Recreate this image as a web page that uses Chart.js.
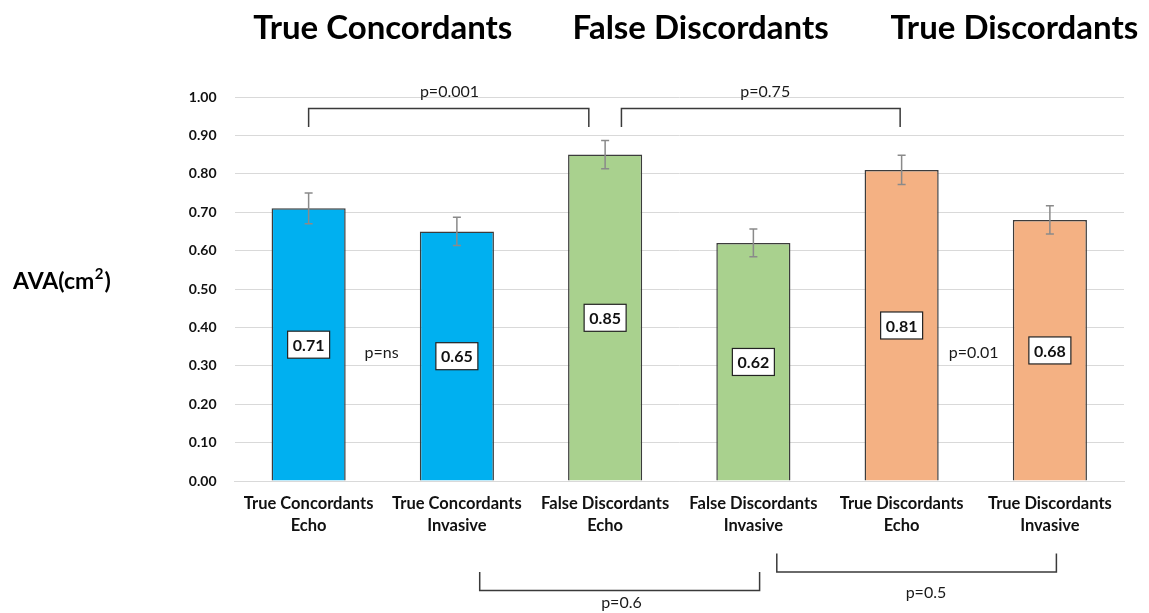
<!DOCTYPE html>
<html>
<head>
<meta charset="utf-8">
<script src="https://cdn.jsdelivr.net/npm/chart.js@4.4.1/dist/chart.umd.min.js"></script>
<style>
  html, body { margin: 0; padding: 0; background: #ffffff; }
  #wrap { width: 1149px; height: 613px; position: relative; }
</style>
</head>
<body>
<div id="wrap"><canvas id="chart"></canvas></div>
<script>
// Categories (two-line axis labels)
const categories = [
  ['True Concordants', 'Echo'],
  ['True Concordants', 'Invasive'],
  ['False Discordants', 'Echo'],
  ['False Discordants', 'Invasive'],
  ['True Discordants', 'Echo'],
  ['True Discordants', 'Invasive']
];
// Mean aortic valve area (cm²) and error half-widths
const avaMean = [0.71, 0.65, 0.85, 0.62, 0.81, 0.68];
const avaError = [0.040, 0.037, 0.037, 0.036, 0.038, 0.037];
// Group headings and p-value annotations
const groupTitles = ['True Concordants', 'False Discordants', 'True Discordants'];
const pLabels = ['p=0.001', 'p=0.75', 'p=ns', 'p=0.01', 'p=0.6', 'p=0.5'];
const yTickValues = [0, 0.1, 0.2, 0.3, 0.4, 0.5, 0.6, 0.7, 0.8, 0.9, 1.0];

const barColors = ['#00B0F0', '#00B0F0', '#A9D18E', '#A9D18E', '#F4B183', '#F4B183'];
const FONT = 'Lato, "Open Sans", sans-serif';

// Bracket geometry: x in category-index units, y in axis units
const brackets = [
  { x0: 0.0,   x1: 1.89,  yLine: 0.970,  yEnd: 0.922,  label: 0, tx: 0.95,  ty: 1.013 },
  { x0: 2.11,  x1: 3.99,  yLine: 0.970,  yEnd: 0.922,  label: 1, tx: 3.08,  ty: 1.013 },
  { x0: 1.154, x1: 3.042, yLine: -0.285, yEnd: -0.237, label: 4, tx: 2.11,  ty: -0.318 },
  { x0: 3.158, x1: 5.044, yLine: -0.237, yEnd: -0.189, label: 5, tx: 4.164, ty: -0.292 }
];
const looseLabels = [
  { label: 2, tx: 0.492, ty: 0.333 },
  { label: 3, tx: 4.486, ty: 0.333 }
];
const titlePos = [0.50, 2.644, 4.76];

const errorBarPlugin = {
  id: 'errorBars',
  afterDatasetsDraw(chart) {
    const { ctx, scales: { x, y } } = chart;
    ctx.save();
    ctx.strokeStyle = '#8a8a8a';
    ctx.lineWidth = 1.5;
    avaMean.forEach((v, i) => {
      const px = x.getPixelForValue(i);
      const top = y.getPixelForValue(v + avaError[i]);
      const bot = y.getPixelForValue(v - avaError[i]);
      ctx.beginPath();
      ctx.moveTo(px, top); ctx.lineTo(px, bot);
      ctx.moveTo(px - 4, top); ctx.lineTo(px + 4, top);
      ctx.moveTo(px - 4, bot); ctx.lineTo(px + 4, bot);
      ctx.stroke();
    });
    // value boxes at mid-height of each bar
    ctx.font = 'bold 16px ' + FONT;
    ctx.textAlign = 'center';
    ctx.textBaseline = 'middle';
    avaMean.forEach((v, i) => {
      const px = x.getPixelForValue(i);
      const py = y.getPixelForValue(v / 2);
      const w = 42, h = 27;
      ctx.fillStyle = '#ffffff';
      ctx.fillRect(px - w / 2, py - h / 2, w, h);
      ctx.strokeStyle = '#222222';
      ctx.lineWidth = 1.2;
      ctx.strokeRect(px - w / 2, py - h / 2, w, h);
      ctx.fillStyle = '#111111';
      ctx.fillText(v.toFixed(2), px, py + 1);
    });
    ctx.restore();
  },
  afterDraw(chart) {
    const { ctx, scales: { x, y } } = chart;
    ctx.save();
    // comparison brackets
    ctx.strokeStyle = '#3a3a3a';
    ctx.lineWidth = 1.5;
    ctx.font = '16px ' + FONT;
    ctx.fillStyle = '#1a1a1a';
    ctx.textAlign = 'center';
    ctx.textBaseline = 'middle';
    brackets.forEach(b => {
      const xa = x.getPixelForValue(b.x0), xb = x.getPixelForValue(b.x1);
      const yl = y.getPixelForValue(b.yLine), ye = y.getPixelForValue(b.yEnd);
      ctx.beginPath();
      ctx.moveTo(xa, ye); ctx.lineTo(xa, yl); ctx.lineTo(xb, yl); ctx.lineTo(xb, ye);
      ctx.stroke();
      ctx.fillText(pLabels[b.label], x.getPixelForValue(b.tx), y.getPixelForValue(b.ty));
    });
    looseLabels.forEach(l => {
      ctx.fillText(pLabels[l.label], x.getPixelForValue(l.tx), y.getPixelForValue(l.ty));
    });
    // group headings
    ctx.font = 'bold 33px ' + FONT;
    ctx.fillStyle = '#000000';
    groupTitles.forEach((t, i) => {
      ctx.fillText(t, x.getPixelForValue(titlePos[i]), 28);
    });
    // horizontal y-axis title with superscript
    ctx.textAlign = 'left';
    ctx.font = 'bold 23px ' + FONT;
    const ty = y.getPixelForValue(0.52);
    let cx = 13;
    ctx.fillText('AVA(cm', cx, ty);
    cx += ctx.measureText('AVA(cm').width;
    ctx.font = 'bold 15px ' + FONT;
    ctx.fillText('2', cx + 0.5, ty - 7);
    cx += ctx.measureText('2').width + 1.5;
    ctx.font = 'bold 23px ' + FONT;
    ctx.fillText(')', cx, ty);
    ctx.restore();
  }
};

new Chart(document.getElementById('chart'), {
  type: 'bar',
  data: {
    labels: categories,
    datasets: [{
      data: avaMean,
      backgroundColor: barColors,
      borderColor: '#3c3c3c',
      borderWidth: 1.5,
      barPercentage: 0.5,
      categoryPercentage: 1.0
    }]
  },
  options: {
    responsive: true,
    maintainAspectRatio: false,
    animation: false,
    layout: { padding: { top: 97, right: 25, left: 0, bottom: 0 } },
    plugins: { legend: { display: false }, tooltip: { enabled: false } },
    scales: {
      x: {
        afterFit(scale) { scale.height = 132; },
        grid: { display: false, drawTicks: false },
        border: { display: true, color: '#d9d9d9', width: 1 },
        ticks: {
          color: '#111111',
          font: { family: FONT, size: 16.5, weight: 'bold', lineHeight: 1.36 },
          padding: 11,
          maxRotation: 0,
          autoSkip: false
        }
      },
      y: {
        min: 0,
        max: 1,
        afterFit(scale) { scale.width = 234.5; },
        afterBuildTicks(scale) { scale.ticks = yTickValues.map(v => ({ value: v })); },
        grid: { color: '#d9d9d9', lineWidth: 1, drawTicks: false },
        border: { display: false },
        ticks: {
          color: '#111111',
          font: { family: FONT, size: 14, weight: 'bold' },
          padding: 18,
          callback: v => Number(v).toFixed(2)
        }
      }
    }
  },
  plugins: [errorBarPlugin]
});
</script>
</body>
</html>
